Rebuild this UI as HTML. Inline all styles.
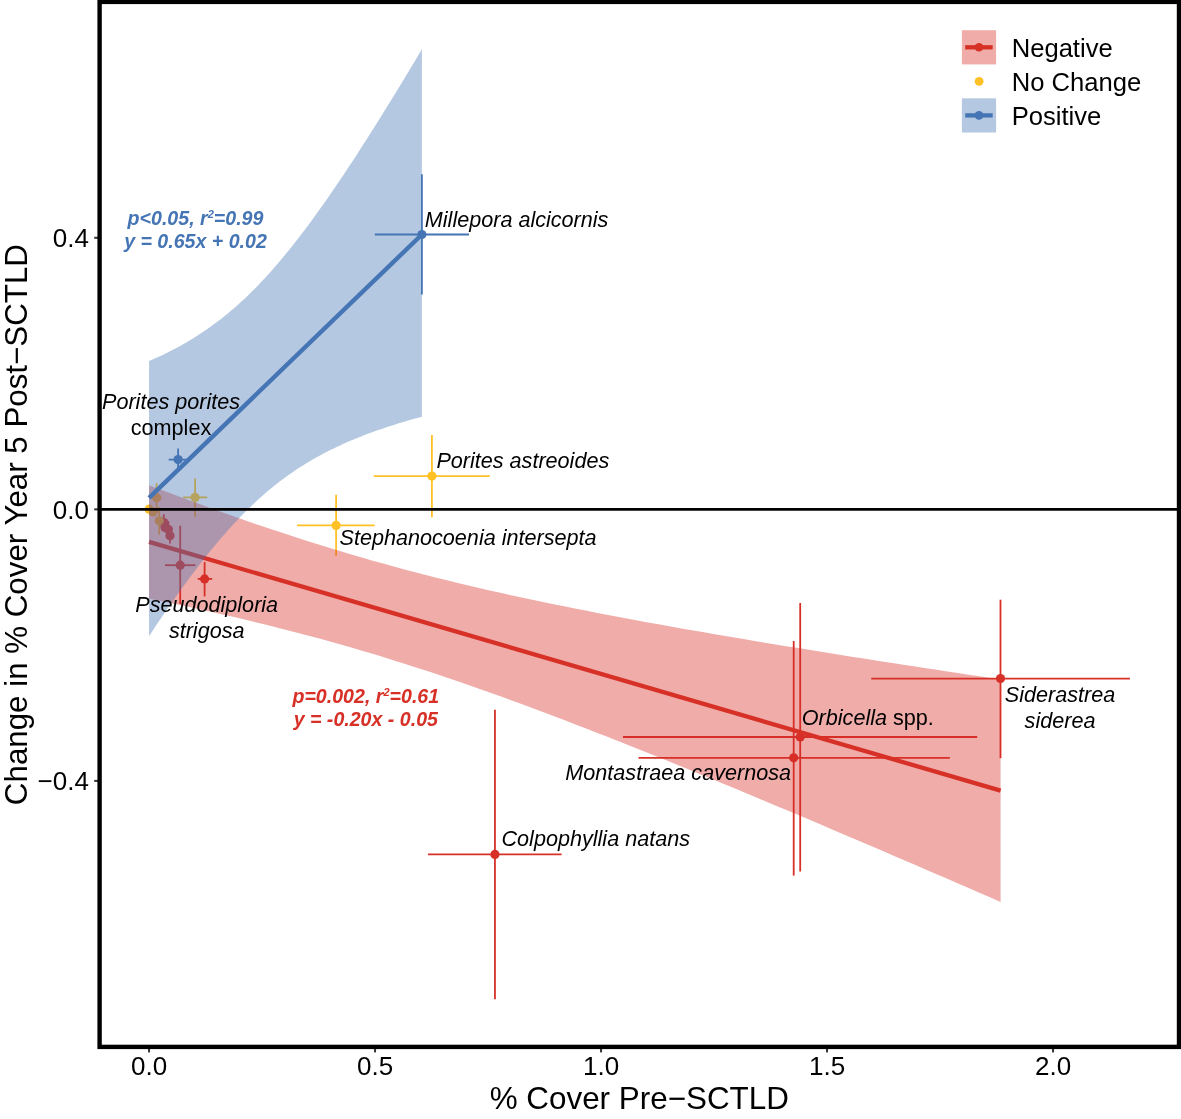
<!DOCTYPE html><html><head><meta charset="utf-8"><style>html,body{margin:0;padding:0;background:#fff;}body{width:1181px;height:1119px;overflow:hidden;}svg{display:block;will-change:transform;}text{font-family:"Liberation Sans",sans-serif;}</style></head><body>
<svg width="1181" height="1119" viewBox="0 0 1181 1119">
<rect x="0" y="0" width="1181" height="1119" fill="#fff"/>
<line x1="494.95" y1="709.70" x2="494.95" y2="999.20" stroke="#D73027" stroke-width="1.8"/><line x1="428.00" y1="854.40" x2="561.60" y2="854.40" stroke="#D73027" stroke-width="1.8"/><circle cx="494.95" cy="854.40" r="4.6" fill="#D73027"/>
<line x1="800.20" y1="602.90" x2="800.20" y2="871.60" stroke="#D73027" stroke-width="1.8"/><line x1="623.00" y1="737.00" x2="977.20" y2="737.00" stroke="#D73027" stroke-width="1.8"/><circle cx="800.20" cy="737.00" r="4.6" fill="#D73027"/>
<line x1="793.70" y1="641.00" x2="793.70" y2="875.60" stroke="#D73027" stroke-width="1.8"/><line x1="638.50" y1="757.80" x2="949.90" y2="757.80" stroke="#D73027" stroke-width="1.8"/><circle cx="793.70" cy="757.80" r="4.6" fill="#D73027"/>
<line x1="1000.50" y1="599.70" x2="1000.50" y2="758.20" stroke="#D73027" stroke-width="1.8"/><line x1="871.30" y1="678.60" x2="1129.90" y2="678.60" stroke="#D73027" stroke-width="1.8"/><circle cx="1000.50" cy="678.60" r="4.6" fill="#D73027"/>
<line x1="180.20" y1="525.70" x2="180.20" y2="604.00" stroke="#D73027" stroke-width="1.8"/><line x1="165.00" y1="565.20" x2="195.50" y2="565.20" stroke="#D73027" stroke-width="1.8"/><circle cx="180.20" cy="565.20" r="4.6" fill="#D73027"/>
<line x1="204.60" y1="562.10" x2="204.60" y2="596.40" stroke="#D73027" stroke-width="1.8"/><line x1="197.70" y1="578.90" x2="212.20" y2="578.90" stroke="#D73027" stroke-width="1.8"/><circle cx="204.60" cy="578.90" r="4.6" fill="#D73027"/>
<line x1="163.80" y1="514.30" x2="163.80" y2="530.00" stroke="#D73027" stroke-width="1.8"/><circle cx="163.80" cy="522.50" r="4.6" fill="#D73027"/>
<circle cx="165.00" cy="527.50" r="4.6" fill="#D73027"/>
<line x1="168.40" y1="521.10" x2="168.40" y2="537.00" stroke="#D73027" stroke-width="1.8"/><circle cx="168.40" cy="529.50" r="4.6" fill="#D73027"/>
<line x1="170.00" y1="528.00" x2="170.00" y2="543.60" stroke="#D73027" stroke-width="1.8"/><circle cx="170.00" cy="535.80" r="4.6" fill="#D73027"/>
<line x1="431.90" y1="435.00" x2="431.90" y2="517.20" stroke="#FFC125" stroke-width="1.8"/><line x1="373.80" y1="476.10" x2="489.80" y2="476.10" stroke="#FFC125" stroke-width="1.8"/><circle cx="431.90" cy="476.10" r="4.6" fill="#FFC125"/>
<line x1="336.10" y1="494.80" x2="336.10" y2="555.70" stroke="#FFC125" stroke-width="1.8"/><line x1="297.00" y1="525.40" x2="374.70" y2="525.40" stroke="#FFC125" stroke-width="1.8"/><circle cx="336.10" cy="525.40" r="4.6" fill="#FFC125"/>
<line x1="195.10" y1="478.60" x2="195.10" y2="516.80" stroke="#FFC125" stroke-width="1.8"/><line x1="183.20" y1="497.40" x2="207.20" y2="497.40" stroke="#FFC125" stroke-width="1.8"/><circle cx="195.10" cy="497.40" r="4.6" fill="#FFC125"/>
<circle cx="149.10" cy="509.20" r="4.6" fill="#FFC125"/>
<line x1="156.60" y1="483.20" x2="156.60" y2="512.00" stroke="#FFC125" stroke-width="1.8"/><line x1="151.50" y1="497.80" x2="161.60" y2="497.80" stroke="#FFC125" stroke-width="1.8"/><circle cx="156.60" cy="497.80" r="4.6" fill="#FFC125"/>
<line x1="149.00" y1="512.00" x2="158.00" y2="512.00" stroke="#FFC125" stroke-width="1.8"/><circle cx="153.00" cy="512.00" r="4.6" fill="#FFC125"/>
<line x1="159.20" y1="507.00" x2="159.20" y2="534.70" stroke="#FFC125" stroke-width="1.8"/><line x1="155.00" y1="520.80" x2="163.60" y2="520.80" stroke="#FFC125" stroke-width="1.8"/><circle cx="159.20" cy="520.80" r="4.6" fill="#FFC125"/>
<line x1="421.90" y1="174.30" x2="421.90" y2="294.40" stroke="#4575B4" stroke-width="1.8"/><line x1="374.80" y1="234.50" x2="469.00" y2="234.50" stroke="#4575B4" stroke-width="1.8"/><circle cx="421.90" cy="234.50" r="4.6" fill="#4575B4"/>
<line x1="178.10" y1="448.60" x2="178.10" y2="469.80" stroke="#4575B4" stroke-width="1.8"/><line x1="168.70" y1="459.60" x2="187.40" y2="459.60" stroke="#4575B4" stroke-width="1.8"/><circle cx="178.10" cy="459.60" r="4.6" fill="#4575B4"/>
<path d="M149.05,485.24 L159.69,489.28 L170.34,493.29 L180.98,497.27 L191.63,501.20 L202.27,505.10 L212.92,508.95 L223.56,512.76 L234.21,516.53 L244.85,520.24 L255.49,523.91 L266.14,527.53 L276.78,531.09 L287.43,534.61 L298.07,538.06 L308.72,541.46 L319.36,544.80 L330.00,548.09 L340.65,551.31 L351.29,554.48 L361.94,557.58 L372.58,560.63 L383.23,563.61 L393.87,566.54 L404.51,569.41 L415.16,572.22 L425.80,574.97 L436.45,577.67 L447.09,580.32 L457.74,582.91 L468.38,585.46 L479.03,587.95 L489.67,590.40 L500.31,592.80 L510.96,595.16 L521.60,597.48 L532.25,599.76 L542.89,602.00 L553.54,604.20 L564.18,606.37 L574.83,608.50 L585.47,610.61 L596.11,612.68 L606.76,614.73 L617.40,616.75 L628.05,618.75 L638.69,620.72 L649.34,622.67 L659.98,624.59 L670.62,626.50 L681.27,628.39 L691.91,630.26 L702.56,632.11 L713.20,633.94 L723.85,635.76 L734.49,637.57 L745.13,639.36 L755.78,641.13 L766.42,642.90 L777.07,644.65 L787.71,646.39 L798.36,648.12 L809.00,649.84 L819.65,651.55 L830.29,653.25 L840.93,654.94 L851.58,656.63 L862.22,658.30 L872.87,659.97 L883.51,661.63 L894.16,663.28 L904.80,664.93 L915.44,666.57 L926.09,668.20 L936.73,669.83 L947.38,671.45 L958.02,673.07 L968.67,674.68 L979.31,676.28 L989.96,677.89 L1000.60,679.48 L1000.60,901.89 L989.96,897.27 L979.31,892.65 L968.67,888.04 L958.02,883.44 L947.38,878.83 L936.73,874.24 L926.09,869.65 L915.44,865.06 L904.80,860.48 L894.16,855.91 L883.51,851.34 L872.87,846.79 L862.22,842.23 L851.58,837.69 L840.93,833.16 L830.29,828.63 L819.65,824.11 L809.00,819.60 L798.36,815.10 L787.71,810.62 L777.07,806.14 L766.42,801.67 L755.78,797.22 L745.13,792.78 L734.49,788.35 L723.85,783.93 L713.20,779.54 L702.56,775.15 L691.91,770.79 L681.27,766.44 L670.62,762.10 L659.98,757.79 L649.34,753.50 L638.69,749.23 L628.05,744.98 L617.40,740.76 L606.76,736.56 L596.11,732.39 L585.47,728.25 L574.83,724.13 L564.18,720.05 L553.54,716.00 L542.89,711.99 L532.25,708.01 L521.60,704.07 L510.96,700.17 L500.31,696.31 L489.67,692.49 L479.03,688.72 L468.38,685.00 L457.74,681.32 L447.09,677.70 L436.45,674.12 L425.80,670.61 L415.16,667.14 L404.51,663.73 L393.87,660.39 L383.23,657.09 L372.58,653.86 L361.94,650.69 L351.29,647.58 L340.65,644.52 L330.00,641.53 L319.36,638.59 L308.72,635.72 L298.07,632.90 L287.43,630.13 L276.78,627.43 L266.14,624.77 L255.49,622.17 L244.85,619.62 L234.21,617.12 L223.56,614.67 L212.92,612.26 L202.27,609.89 L191.63,607.57 L180.98,605.29 L170.34,603.04 L159.69,600.84 L149.05,598.66 Z" fill="#D73027" fill-opacity="0.4"/>
<line x1="149.05" y1="541.9" x2="1000.6" y2="790.64" stroke="#D73027" stroke-width="4.25"/>
<path d="M149.05,361.07 L152.46,359.59 L155.87,358.07 L159.28,356.50 L162.69,354.89 L166.10,353.24 L169.51,351.54 L172.92,349.79 L176.34,347.99 L179.75,346.14 L183.16,344.24 L186.57,342.28 L189.98,340.26 L193.39,338.19 L196.80,336.05 L200.21,333.84 L203.62,331.57 L207.03,329.24 L210.44,326.83 L213.85,324.36 L217.26,321.81 L220.67,319.19 L224.08,316.49 L227.49,313.72 L230.91,310.87 L234.32,307.94 L237.73,304.93 L241.14,301.84 L244.55,298.67 L247.96,295.42 L251.37,292.08 L254.78,288.67 L258.19,285.17 L261.60,281.60 L265.01,277.94 L268.42,274.20 L271.83,270.39 L275.24,266.50 L278.65,262.53 L282.06,258.49 L285.48,254.37 L288.89,250.18 L292.30,245.92 L295.71,241.60 L299.12,237.20 L302.53,232.75 L305.94,228.22 L309.35,223.64 L312.76,219.00 L316.17,214.30 L319.58,209.55 L322.99,204.74 L326.40,199.88 L329.81,194.98 L333.22,190.02 L336.63,185.02 L340.04,179.97 L343.46,174.88 L346.87,169.75 L350.28,164.58 L353.69,159.38 L357.10,154.14 L360.51,148.86 L363.92,143.55 L367.33,138.20 L370.74,132.83 L374.15,127.43 L377.56,122.00 L380.97,116.54 L384.38,111.05 L387.79,105.54 L391.20,100.01 L394.62,94.45 L398.03,88.88 L401.44,83.28 L404.85,77.66 L408.26,72.02 L411.67,66.36 L415.08,60.68 L418.49,54.99 L421.90,49.28 L421.90,416.74 L418.49,417.67 L415.08,418.61 L411.67,419.58 L408.26,420.56 L404.85,421.56 L401.44,422.58 L398.03,423.62 L394.62,424.68 L391.20,425.76 L387.79,426.87 L384.38,428.00 L380.97,429.16 L377.56,430.34 L374.15,431.55 L370.74,432.78 L367.33,434.05 L363.92,435.35 L360.51,436.67 L357.10,438.04 L353.69,439.43 L350.28,440.87 L346.87,442.34 L343.46,443.85 L340.04,445.40 L336.63,446.99 L333.22,448.63 L329.81,450.32 L326.40,452.05 L322.99,453.83 L319.58,455.66 L316.17,457.55 L312.76,459.49 L309.35,461.49 L305.94,463.54 L302.53,465.66 L299.12,467.84 L295.71,470.09 L292.30,472.40 L288.89,474.79 L285.48,477.24 L282.06,479.76 L278.65,482.36 L275.24,485.03 L271.83,487.78 L268.42,490.60 L265.01,493.51 L261.60,496.49 L258.19,499.55 L254.78,502.70 L251.37,505.92 L247.96,509.23 L244.55,512.62 L241.14,516.09 L237.73,519.64 L234.32,523.27 L230.91,526.98 L227.49,530.76 L224.08,534.63 L220.67,538.57 L217.26,542.59 L213.85,546.68 L210.44,550.85 L207.03,555.08 L203.62,559.39 L200.21,563.76 L196.80,568.20 L193.39,572.70 L189.98,577.26 L186.57,581.88 L183.16,586.56 L179.75,591.30 L176.34,596.09 L172.92,600.93 L169.51,605.82 L166.10,610.76 L162.69,615.75 L159.28,620.78 L155.87,625.85 L152.46,630.97 L149.05,636.13 Z" fill="#4575B4" fill-opacity="0.4"/>
<line x1="149.05" y1="497.8" x2="421.9" y2="234.5" stroke="#4575B4" stroke-width="4.4"/>
<line x1="99.6" y1="509.3" x2="1179" y2="509.3" stroke="#000" stroke-width="2.7"/>
<text x="424.8" y="226.5" font-size="21.6" font-style="italic" font-weight="normal" fill="#000" text-anchor="start">Millepora alcicornis</text>
<text x="171.0" y="408.8" font-size="21.6" font-style="italic" font-weight="normal" fill="#000" text-anchor="middle">Porites porites</text>
<text x="171.0" y="435.0" font-size="21.6" font-style="normal" font-weight="normal" fill="#000" text-anchor="middle">complex</text>
<text x="436.4" y="468.3" font-size="21.6" font-style="italic" font-weight="normal" fill="#000" text-anchor="start">Porites astreoides</text>
<text x="339.6" y="544.6" font-size="21.6" font-style="italic" font-weight="normal" fill="#000" text-anchor="start">Stephanocoenia intersepta</text>
<text x="206.7" y="612.4" font-size="21.6" font-style="italic" font-weight="normal" fill="#000" text-anchor="middle">Pseudodiploria</text>
<text x="206.7" y="637.6" font-size="21.6" font-style="italic" font-weight="normal" fill="#000" text-anchor="middle">strigosa</text>
<text x="801.8" y="725.4" font-size="21.6" font-style="italic" font-weight="normal" fill="#000" text-anchor="start">Orbicella<tspan font-style="normal"> spp.</tspan></text>
<text x="791.0" y="779.5" font-size="21.6" font-style="italic" font-weight="normal" fill="#000" text-anchor="end">Montastraea cavernosa</text>
<text x="1060.0" y="701.6" font-size="21.6" font-style="italic" font-weight="normal" fill="#000" text-anchor="middle">Siderastrea</text>
<text x="1060.0" y="727.5" font-size="21.6" font-style="italic" font-weight="normal" fill="#000" text-anchor="middle">siderea</text>
<text x="501.5" y="846.4" font-size="21.6" font-style="italic" font-weight="normal" fill="#000" text-anchor="start">Colpophyllia natans</text>
<text x="195.5" y="224.7" font-size="19.6" font-style="italic" font-weight="bold" fill="#4575B4" text-anchor="middle">p&lt;0.05, r<tspan font-size="11" dy="-7">2</tspan><tspan dy="7">=0.99</tspan></text>
<text x="195.5" y="248.4" font-size="19.6" font-style="italic" font-weight="bold" fill="#4575B4" text-anchor="middle">y = 0.65x + 0.02</text>
<text x="365.8" y="702.9" font-size="19.6" font-style="italic" font-weight="bold" fill="#D73027" text-anchor="middle">p=0.002, r<tspan font-size="11" dy="-7">2</tspan><tspan dy="7">=0.61</tspan></text>
<text x="365.8" y="726.1" font-size="19.6" font-style="italic" font-weight="bold" fill="#D73027" text-anchor="middle">y = -0.20x - 0.05</text>
<rect x="961.9" y="30.2" width="34.2" height="34.2" fill="#D73027" fill-opacity="0.4"/>
<line x1="965.2" y1="47.3" x2="992.7" y2="47.3" stroke="#D73027" stroke-width="4.3"/><circle cx="979" cy="47.3" r="4.3" fill="#D73027"/>
<circle cx="979.1" cy="81.3" r="4.4" fill="#FFC125"/>
<rect x="961.9" y="98.3" width="34.2" height="34.2" fill="#4575B4" fill-opacity="0.4"/>
<line x1="965.2" y1="115.4" x2="992.7" y2="115.4" stroke="#4575B4" stroke-width="4.3"/><circle cx="979" cy="115.4" r="4.3" fill="#4575B4"/>
<text x="1011.7" y="56.8" font-size="25.6" font-style="normal" font-weight="normal" fill="#000" text-anchor="start">Negative</text>
<text x="1011.7" y="90.7" font-size="25.6" font-style="normal" font-weight="normal" fill="#000" text-anchor="start">No Change</text>
<text x="1011.7" y="124.5" font-size="25.6" font-style="normal" font-weight="normal" fill="#000" text-anchor="start">Positive</text>
<line x1="94.2" y1="237.79" x2="99.6" y2="237.79" stroke="#333" stroke-width="2"/>
<text x="88.9" y="247.19" font-size="26" fill="#000" text-anchor="end">0.4</text>
<line x1="94.2" y1="509.35" x2="99.6" y2="509.35" stroke="#333" stroke-width="2"/>
<text x="88.9" y="518.75" font-size="26" fill="#000" text-anchor="end">0.0</text>
<line x1="94.2" y1="780.91" x2="99.6" y2="780.91" stroke="#333" stroke-width="2"/>
<text x="88.9" y="790.31" font-size="26" fill="#000" text-anchor="end">−0.4</text>
<line x1="149.05" y1="1046.9" x2="149.05" y2="1052.4" stroke="#333" stroke-width="2"/>
<text x="149.05" y="1075.0" font-size="26" fill="#000" text-anchor="middle">0.0</text>
<line x1="375.05" y1="1046.9" x2="375.05" y2="1052.4" stroke="#333" stroke-width="2"/>
<text x="375.05" y="1075.0" font-size="26" fill="#000" text-anchor="middle">0.5</text>
<line x1="601.05" y1="1046.9" x2="601.05" y2="1052.4" stroke="#333" stroke-width="2"/>
<text x="601.05" y="1075.0" font-size="26" fill="#000" text-anchor="middle">1.0</text>
<line x1="827.05" y1="1046.9" x2="827.05" y2="1052.4" stroke="#333" stroke-width="2"/>
<text x="827.05" y="1075.0" font-size="26" fill="#000" text-anchor="middle">1.5</text>
<line x1="1053.05" y1="1046.9" x2="1053.05" y2="1052.4" stroke="#333" stroke-width="2"/>
<text x="1053.05" y="1075.0" font-size="26" fill="#000" text-anchor="middle">2.0</text>
<rect x="99.6" y="1.9" width="1079.4" height="1045" fill="none" stroke="#000" stroke-width="4.4"/>
<text x="639.3" y="1108.8" font-size="31.4" fill="#000" text-anchor="middle">% Cover Pre−SCTLD</text>
<text transform="translate(26.9,524.6) rotate(-90)" x="0" y="0" font-size="31.3" fill="#000" text-anchor="middle">Change in % Cover Year 5 Post−SCTLD</text>
</svg></body></html>
